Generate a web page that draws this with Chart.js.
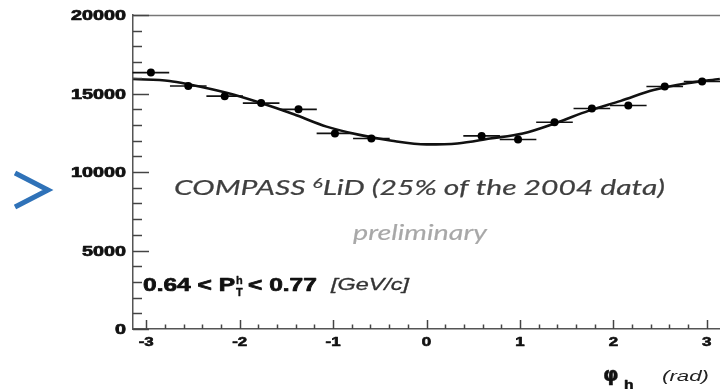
<!DOCTYPE html>
<html>
<head>
<meta charset="utf-8">
<script src="https://cdn.jsdelivr.net/npm/chart.js@4.4.1/dist/chart.umd.min.js"></script>
<style>
  html, body { margin: 0; padding: 0; background: #fff; overflow: hidden; width: 720px; height: 389px; }
  #c { display: block; position: absolute; left: 0; top: 0; }
</style>
</head>
<body>
<canvas id="c" width="724" height="389"></canvas>
<script>
// Azimuthal distribution of hadrons, phi_h bins (rad) and counts
const phiBins = [-2.95, -2.55, -2.16, -1.77, -1.37, -0.98, -0.59, 0.59, 0.98, 1.37, 1.77, 2.16, 2.55, 2.95];
const counts  = [16330, 15480, 14830, 14390, 13990, 12460, 12130, 12300, 12070, 13170, 14040, 14240, 15450, 15760];
const binHalfWidth = 0.196;

// Fitted curve, sampled along phi_h
const fitPhi    = [-3.14, -2.75, -2.55, -2.13, -1.78, -1.42, -1.07, -0.73, -0.37, 0.00, 0.33, 0.68, 1.03, 1.38, 1.74, 2.08, 2.43, 2.79, 3.14];
const fitCounts = [15920, 15800, 15590, 15030, 14410, 13680, 12890, 12380, 11990, 11760, 11820, 12130, 12450, 13110, 13910, 14530, 15220, 15650, 15920];

// Axis tick labels
const xTickLabels = [-3, -2, -1, 0, 1, 2, 3];
const yTickLabels = [0, 5000, 10000, 15000, 20000];

const SANS_BOLD = '"Liberation Sans", Arial, sans-serif';
let CAPTION_FAMILY = 'Lato';

function textWidth(ctx, text, font) {
  ctx.save(); ctx.font = font; const w = ctx.measureText(text).width; ctx.restore(); return w;
}

// draws text with a horizontal scale factor (optionally emboldened); returns drawn width
function stretchedText(ctx, text, x, y, font, color, sx, align, heavy) {
  ctx.save();
  ctx.font = font;
  ctx.fillStyle = color;
  ctx.textBaseline = 'alphabetic';
  const w = ctx.measureText(text).width * sx;
  let x0 = x;
  if (align === 'right') x0 = x - w;
  else if (align === 'center') x0 = x - w / 2;
  ctx.translate(x0, y);
  ctx.scale(sx, 1);
  ctx.fillText(text, 0, 0);
  if (heavy) {
    ctx.strokeStyle = color;
    ctx.lineWidth = heavy;
    ctx.lineJoin = 'round';
    ctx.strokeText(text, 0, 0);
  }
  ctx.restore();
  return w;
}

const decorations = {
  id: 'decorations',
  beforeDatasetsDraw(chart) {
    const { ctx, scales: { x, y } } = chart;
    // horizontal error bars (bin widths)
    ctx.save();
    ctx.strokeStyle = '#111';
    ctx.lineWidth = 1.6;
    phiBins.forEach((p, i) => {
      const yy = y.getPixelForValue(counts[i]);
      ctx.beginPath();
      ctx.moveTo(x.getPixelForValue(p - binHalfWidth), yy);
      ctx.lineTo(x.getPixelForValue(p + binHalfWidth), yy);
      ctx.stroke();
    });
    ctx.restore();
  },
  afterDraw(chart) {
    const { ctx, chartArea: a, scales: { x, y } } = chart;
    ctx.save();
    // frame top line
    ctx.strokeStyle = '#777';
    ctx.lineWidth = 1.3;
    ctx.beginPath();
    ctx.moveTo(a.left, a.top + 0.5);
    ctx.lineTo(a.right, a.top + 0.5);
    ctx.stroke();

    // inward tick marks
    ctx.strokeStyle = '#444';
    ctx.lineWidth = 1.5;
    for (let v = 0; v <= 20000; v += 1000) {
      const py = Math.round(y.getPixelForValue(v)) + 0.5;
      const len = v % 5000 === 0 ? 16 : 9;
      ctx.beginPath();
      ctx.moveTo(a.left, py);
      ctx.lineTo(a.left + len, py);
      ctx.stroke();
    }
    for (let k = -15; k <= 15; k++) {
      const v = k * 0.2;
      const px = Math.round(x.getPixelForValue(v)) + 0.5;
      const len = k % 5 === 0 ? 9 : 4.5;
      ctx.beginPath();
      ctx.moveTo(px, a.bottom);
      ctx.lineTo(px, a.bottom - len);
      ctx.stroke();
    }

    // tick labels
    const yFont = 'bold 14px ' + SANS_BOLD;
    const ySx = 55 / textWidth(ctx, '20000', yFont);
    yTickLabels.forEach(v => {
      stretchedText(ctx, String(v), a.left - 7, y.getPixelForValue(v) + 5, yFont, '#111', ySx, 'right', 0.7);
    });
    const xFont = 'bold 12px ' + SANS_BOLD;
    const xSx = 15 / textWidth(ctx, '-3', xFont);
    xTickLabels.forEach(v => {
      stretchedText(ctx, String(v), x.getPixelForValue(v), a.bottom + 17, xFont, '#111', xSx, 'center', 0.6);
    });

    // axis title: phi_h (rad)
    stretchedText(ctx, 'φ', 603, 381, 'bold 19px "DejaVu Sans", sans-serif', '#111', 1.05, 'left', 0.4);
    stretchedText(ctx, 'h', 624, 389, 'bold 13px ' + SANS_BOLD, '#111', 1.2, 'left', 0.5);
    const radFont = 'italic 15px ' + SANS_BOLD;
    stretchedText(ctx, '(rad)', 662, 381, radFont, '#222', 47 / textWidth(ctx, '(rad)', radFont), 'left');

    // kinematic range label
    const bigFont = 'bold 18px ' + SANS_BOLD;
    const smallFont = 'bold 10px ' + SANS_BOLD;
    const base = 291;
    const kSx = 92 / textWidth(ctx, '0.64 < P', bigFont);
    let cx = 143;
    cx += stretchedText(ctx, '0.64 < P', cx, base, bigFont, '#111', kSx, 'left', 0.7);
    stretchedText(ctx, 'h', cx + 1, base - 7, smallFont, '#111', 1.1, 'left', 0.3);
    stretchedText(ctx, 'T', cx + 1, base + 5, smallFont, '#111', 1.1, 'left', 0.3);
    stretchedText(ctx, '< 0.77', cx + 13, base, bigFont, '#111', kSx, 'left', 0.7);
    const gevFont = 'italic 16px ' + SANS_BOLD;
    stretchedText(ctx, '[GeV/c]', 331, 290, gevFont, '#333', 78 / textWidth(ctx, '[GeV/c]', gevFont), 'left', 0.3);

    // experiment caption
    const capFont = 'italic 22px ' + CAPTION_FAMILY + ', sans-serif';
    const supFont = 'italic 14px ' + CAPTION_FAMILY + ', sans-serif';
    const p1 = 'COMPASS ', p2 = '6', p3 = 'LiD (25% of the 2004 data)';
    const natural = textWidth(ctx, p1, capFont) + textWidth(ctx, p2, supFont) + textWidth(ctx, p3, capFont);
    const sx = 491 / natural;
    let tx = 174;
    const tb = 195;
    tx += stretchedText(ctx, p1, tx, tb, capFont, '#3f3f3f', sx, 'left', 0.2);
    tx += stretchedText(ctx, p2, tx, tb - 7, supFont, '#3f3f3f', sx, 'left', 0.2);
    stretchedText(ctx, p3, tx, tb, capFont, '#3f3f3f', sx, 'left', 0.2);

    const prelimFont = 'italic 21px ' + CAPTION_FAMILY + ', sans-serif';
    const pw = textWidth(ctx, 'preliminary', prelimFont);
    stretchedText(ctx, 'preliminary', 353, 240, prelimFont, '#a8a8a8', 134 / pw, 'left', 0.15);

    // blue chevron marker at the left margin
    ctx.strokeStyle = '#2f72b8';
    ctx.lineWidth = 5;
    ctx.lineJoin = 'miter';
    ctx.lineCap = 'butt';
    ctx.beginPath();
    ctx.moveTo(15, 173);
    ctx.lineTo(48, 190);
    ctx.lineTo(15, 207);
    ctx.stroke();
    ctx.restore();
  }
};

function build() {
  const ctx = document.getElementById('c').getContext('2d');
  new Chart(ctx, {
    type: 'scatter',
    data: {
      datasets: [
        {
          label: 'data',
          data: phiBins.map((p, i) => ({ x: p, y: counts[i] })),
          showLine: false,
          pointRadius: 4,
          pointBackgroundColor: '#000',
          pointBorderColor: '#000',
          pointBorderWidth: 0,
          order: 1
        },
        {
          label: 'fit',
          data: fitPhi.map((p, i) => ({ x: p, y: fitCounts[i] })),
          showLine: true,
          pointRadius: 0,
          borderColor: '#111',
          borderWidth: 2.6,
          cubicInterpolationMode: 'monotone',
          order: 2
        }
      ]
    },
    options: {
      responsive: false,
      devicePixelRatio: 1,
      animation: false,
      layout: { padding: { left: 125, right: 2, top: 15, bottom: 52 } },
      plugins: { legend: { display: false }, tooltip: { enabled: false } },
      scales: {
        x: {
          type: 'linear',
          min: -Math.PI,
          max: Math.PI,
          ticks: { display: false },
          grid: { display: false },
          border: { display: true, color: '#555', width: 1.5 }
        },
        y: {
          type: 'linear',
          min: 0,
          max: 20000,
          ticks: { display: false },
          grid: { display: false },
          border: { display: true, color: '#555', width: 1.5 }
        }
      }
    },
    plugins: [decorations]
  });
}

const fontsToLoad = [
  'italic 22px Lato', 'bold 14px "Liberation Sans"', 'italic 16px "Liberation Sans"',
  'bold 19px "DejaVu Sans"', 'italic 22px "Open Sans"'
];
if (document.fonts && document.fonts.load) {
  Promise.all(fontsToLoad.map(f => document.fonts.load(f).catch(() => null)))
    .then(() => {
      if (!document.fonts.check('italic 22px Lato')) CAPTION_FAMILY = '"Open Sans"';
      build();
    })
    .catch(build);
} else {
  build();
}
</script>
</body>
</html>
